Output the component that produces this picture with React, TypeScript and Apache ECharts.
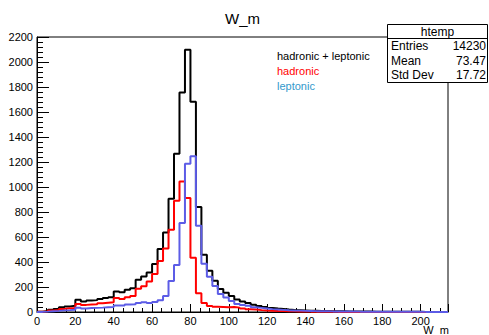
import React, { useEffect, useRef } from "react";
import * as echarts from "echarts";

const binWidth = 20 / 7;
const xMin = 0;
const xMax = 1500 / 7;
const yMin = 0;
const yMax = 2200;

const total = [
  3, 8, 18, 25, 38, 45, 50, 98, 85, 92,
  95, 105, 112, 118, 165, 158, 178, 190, 258, 285,
  317, 384, 504, 637, 906, 1266, 1757, 2098, 1682, 840,
  458, 330, 250, 185, 155, 128, 100, 85, 72, 58,
  48, 40, 33, 28, 24, 20, 17, 15, 13, 11,
  10, 9, 8, 7, 6, 6, 5, 5, 4, 4,
  4, 3, 3, 3, 3, 2, 2, 2, 2, 2,
  1, 1, 1, 1, 1,
];

const hadronic = [
  2, 5, 12, 16, 25, 30, 32, 64, 57, 60,
  62, 70, 74, 78, 112, 105, 118, 128, 186, 207,
  245, 304, 409, 509, 658, 890, 1045, 912, 435, 150,
  72, 48, 42, 40, 38, 40, 35, 28, 22, 20,
  15, 12, 10, 8, 7, 6, 5, 4, 4, 3,
  3, 2, 2, 2, 1, 1, 1, 1, 1, 1,
  1, 1, 1, 1, 0, 0, 0, 0, 0, 0,
  0, 0, 0, 0, 0,
];

const leptonic = [
  1, 3, 6, 9, 13, 15, 18, 34, 28, 32,
  33, 35, 38, 40, 53, 53, 60, 62, 72, 78,
  72, 80, 95, 128, 248, 376, 712, 1186, 1247, 690,
  386, 282, 208, 145, 117, 88, 65, 57, 50, 38,
  33, 28, 23, 20, 17, 14, 12, 11, 9, 8,
  7, 7, 6, 5, 5, 5, 4, 4, 3, 3,
  3, 2, 2, 2, 3, 2, 2, 2, 2, 2,
  1, 1, 1, 1, 1,
];

const titleText = "W_m";
const xAxisTitle = "W_m";
const legendLabels = ["hadronic + leptonic", "hadronic", "leptonic"];
const legendColors = ["#000000", "#ff0000", "#3399cc"];
const seriesColors = ["#000000", "#ff0000", "#5c5ce6"];
const statsTitle = "htemp";
const statsLabels = ["Entries", "Mean", "Std Dev"];
const statsValues = ["14230", "73.47", "17.72"];

const FONT = '"Liberation Sans", Arial, Helvetica, sans-serif';

function toSteps(vals: number[]): number[][] {
  const pts = vals.map((v, i) => [xMin + i * binWidth, v]);
  pts.push([xMin + vals.length * binWidth, vals[vals.length - 1]]);
  return pts;
}

export default function App() {
  const ref = useRef<HTMLDivElement>(null);
  useEffect(() => {
    if (!ref.current) return;
    const chart = echarts.init(ref.current, undefined, { renderer: "svg" });
    const gridLeft = 37;
    const gridTop = 37;
    const gridRight = 41;
    const gridBottom = 23;

    const seriesData = [total, hadronic, leptonic];
    const series = seriesData.map((d, i) => ({
      type: "line" as const,
      name: legendLabels[i],
      data: toSteps(d),
      step: "end" as const,
      showSymbol: false,
      symbol: "none",
      xAxisIndex: 0,
      yAxisIndex: 0,
      lineStyle: { color: seriesColors[i], width: 2 },
      z: 2 + i,
      silent: true,
    }));

    const textEl = (
      text: string,
      x: number,
      y: number,
      size: number,
      color: string,
      align: string
    ) => ({
      type: "text",
      x,
      y,
      z: 101,
      style: {
        text,
        fill: color,
        fontSize: size,
        fontFamily: FONT,
        align,
        verticalAlign: "middle",
      },
    });

    const boxX = 387.5;
    const boxY = 24.5;
    const boxW = 100;
    const boxH = 58;

    chart.setOption({
      animation: false,
      backgroundColor: "#ffffff",
      grid: {
        left: gridLeft,
        right: gridRight,
        top: gridTop,
        bottom: gridBottom,
        show: true,
        borderColor: "#000",
        borderWidth: 1,
        backgroundColor: "transparent",
      },
      xAxis: [
        {
          type: "value",
          min: xMin,
          max: xMax,
          interval: 20,
          position: "bottom",
          axisLine: { show: true, onZero: false, lineStyle: { color: "#000", width: 1 } },
          axisTick: { show: true, inside: true, length: 8, lineStyle: { color: "#000" } },
          minorTick: { show: false },
          splitLine: { show: false },
          axisLabel: {
            color: "#000",
            fontSize: 11,
            fontFamily: FONT,
            margin: 3,
            formatter: (v: number) => (Math.abs(v % 20) < 1e-6 && v <= 200 ? String(v) : ""),
          },
        },
        {
          type: "value",
          min: xMin,
          max: xMax,
          interval: 5,
          position: "bottom",
          axisLine: { show: false },
          axisTick: { show: true, inside: true, length: 4, lineStyle: { color: "#000" } },
          splitLine: { show: false },
          axisLabel: { show: false },
        },
      ],
      yAxis: {
        type: "value",
        min: yMin,
        max: yMax,
        interval: 200,
        axisLine: { show: true, onZero: false, lineStyle: { color: "#000", width: 1 } },
        axisTick: { show: true, inside: true, length: 12, lineStyle: { color: "#000" } },
        minorTick: { show: true, splitNumber: 5, length: 6, lineStyle: { color: "#000" } },
        splitLine: { show: false },
        axisLabel: {
          color: "#000",
          fontSize: 11,
          fontFamily: FONT,
          margin: 4,
          formatter: (v: number) => String(v),
        },
      },
      series,
      graphic: [
        textEl(titleText, 242.5, 18, 15, "#000", "center"),
        textEl(xAxisTitle, 449, 330, 11, "#000", "right"),
        ...legendLabels.map((t, i) => textEl(t, 277, 56 + i * 15, 11, legendColors[i], "left")),
        {
          type: "rect",
          z: 100,
          shape: { x: boxX, y: boxY, width: boxW, height: boxH },
          style: { fill: "#fff", stroke: "#000", lineWidth: 1 },
        },
        {
          type: "line",
          z: 101,
          shape: { x1: boxX, y1: 38.5, x2: boxX + boxW, y2: 38.5 },
          style: { stroke: "#000", lineWidth: 1 },
        },
        textEl(statsTitle, 437.5, 31.5, 12, "#000", "center"),
        ...statsLabels.map((t, i) => textEl(t, 391, 46 + i * 14.5, 12, "#000", "left")),
        ...statsValues.map((t, i) => textEl(t, 486, 46 + i * 14.5, 12, "#000", "right")),
      ],
    });
    return () => chart.dispose();
  }, []);
  return (
    <div
      ref={ref}
      style={{ position: "fixed", left: 0, top: 0, width: 489, height: 335, background: "#fff" }}
    />
  );
}
